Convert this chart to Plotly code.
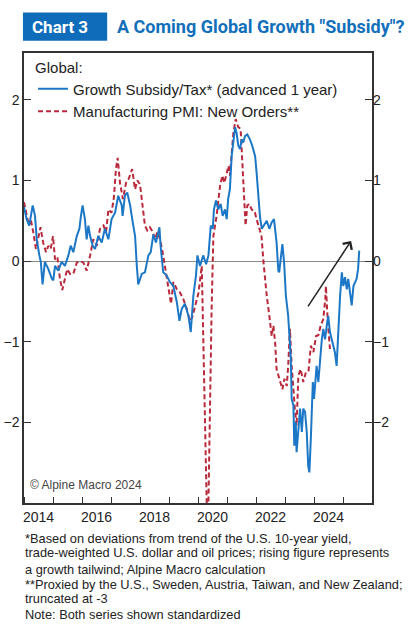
import plotly.graph_objects as go

# ---- data (decimal years) ----
blue_x = [2014.00, 2014.09, 2014.18, 2014.30, 2014.38, 2014.44, 2014.53, 2014.58, 2014.64, 2014.72,
          2014.84, 2014.96, 2015.01, 2015.07, 2015.18, 2015.30, 2015.41, 2015.53, 2015.61, 2015.70,
          2015.82, 2015.91, 2015.96, 2016.02, 2016.10, 2016.16, 2016.22, 2016.28, 2016.37, 2016.45,
          2016.56, 2016.68, 2016.79, 2016.91, 2017.02, 2017.14, 2017.25, 2017.37, 2017.40, 2017.48,
          2017.56, 2017.66, 2017.75, 2017.83, 2017.89, 2017.94, 2018.06, 2018.17, 2018.29, 2018.37,
          2018.46, 2018.55, 2018.67, 2018.71, 2018.80, 2018.92, 2019.03, 2019.15, 2019.27, 2019.36,
          2019.44, 2019.55, 2019.67, 2019.75, 2019.84, 2019.93, 2019.98, 2020.07, 2020.18, 2020.28,
          2020.36, 2020.44, 2020.51, 2020.55, 2020.62, 2020.70, 2020.78, 2020.85, 2020.93, 2020.99,
          2021.04, 2021.10, 2021.16, 2021.22, 2021.28, 2021.33, 2021.39, 2021.45, 2021.51, 2021.56,
          2021.62, 2021.70, 2021.79, 2021.87, 2021.97, 2022.02, 2022.08, 2022.14, 2022.20, 2022.28,
          2022.37, 2022.46, 2022.54, 2022.62, 2022.71, 2022.77, 2022.80, 2022.85, 2022.91, 2022.97,
          2023.03, 2023.11, 2023.20, 2023.23, 2023.29, 2023.32, 2023.37, 2023.40, 2023.46, 2023.52,
          2023.58, 2023.63, 2023.69, 2023.75, 2023.80, 2023.84, 2023.89, 2023.92, 2023.96, 2024.00,
          2024.04, 2024.09, 2024.15, 2024.21, 2024.27, 2024.32, 2024.38, 2024.44, 2024.49, 2024.55,
          2024.61, 2024.67, 2024.72, 2024.78, 2024.84, 2024.90, 2024.96, 2025.01, 2025.07, 2025.13,
          2025.18, 2025.24, 2025.30, 2025.36, 2025.41, 2025.47, 2025.52, 2025.56]
blue_y = [0.67, 0.52, 0.44, 0.69, 0.56, 0.27, 0.07, -0.01, -0.29, -0.01,
          -0.10, -0.22, -0.24, -0.06, -0.12, -0.01, -0.06, 0.07, 0.19, 0.11,
          0.31, 0.40, 0.55, 0.69, 0.52, 0.27, 0.44, 0.31, 0.19, 0.15,
          0.31, 0.23, 0.40, 0.27, 0.52, 0.60, 0.81, 0.69, 0.56, 0.81,
          0.85, 0.69, 0.48, 0.31, -0.06, -0.29, -0.16, -0.14, 0.07, 0.11,
          0.33, 0.23, 0.42, 0.19, -0.14, -0.18, -0.26, -0.31, -0.51, -0.74,
          -0.59, -0.53, -0.68, -0.88, -0.43, -0.18, 0.07, -0.06, 0.07, -0.04,
          0.07, 0.44, 0.40, 0.64, 0.75, 0.64, 0.71, 0.56, 0.64, 0.52,
          0.77, 0.89, 1.30, 1.47, 1.66, 1.59, 1.43, 1.39, 1.51, 1.47,
          1.55, 1.57, 1.51, 1.43, 1.30, 1.10, 0.85, 0.54, 0.40, 0.44,
          0.50, 0.40, 0.48, 0.52, 0.23, -0.12, -0.14, 0.02, 0.21, -0.02,
          -0.43, -0.68, -1.21, -1.71, -1.79, -2.29, -2.00, -2.37, -2.04, -1.83,
          -2.12, -1.83, -1.87, -2.12, -2.54, -2.62, -2.21, -1.79, -1.50, -1.71,
          -1.46, -1.30, -1.50, -1.17, -0.97, -0.84, -0.97, -0.80, -0.68, -0.88,
          -0.97, -1.05, -1.13, -1.30, -0.80, -0.43, -0.14, -0.31, -0.20, -0.35,
          -0.22, -0.43, -0.55, -0.31, -0.26, -0.22, -0.10, 0.13]

red_x = [2014.00, 2014.09, 2014.17, 2014.23, 2014.32, 2014.41, 2014.49, 2014.57, 2014.66, 2014.76,
         2014.84, 2014.92, 2015.00, 2015.07, 2015.15, 2015.24, 2015.32, 2015.41, 2015.49, 2015.59,
         2015.70, 2015.82, 2015.93, 2016.05, 2016.16, 2016.28, 2016.39, 2016.51, 2016.62, 2016.74,
         2016.83, 2016.91, 2017.02, 2017.10, 2017.17, 2017.23, 2017.31, 2017.41, 2017.52, 2017.61,
         2017.73, 2017.83, 2017.91, 2018.00, 2018.09, 2018.17, 2018.25, 2018.34, 2018.44, 2018.52,
         2018.60, 2018.69, 2018.78, 2018.86, 2018.94, 2019.01, 2019.07, 2019.15, 2019.27, 2019.38,
         2019.49, 2019.61, 2019.72, 2019.80, 2019.90, 2020.02, 2020.13, 2020.18, 2020.24, 2020.30,
         2020.36, 2020.41, 2020.47, 2020.53, 2020.64, 2020.76, 2020.84, 2020.91, 2020.99, 2021.05,
         2021.10, 2021.16, 2021.22, 2021.30, 2021.39, 2021.47, 2021.54, 2021.60, 2021.64, 2021.70,
         2021.77, 2021.85, 2021.95, 2022.02, 2022.08, 2022.19, 2022.25, 2022.31, 2022.37, 2022.46,
         2022.54, 2022.60, 2022.66, 2022.71, 2022.83, 2022.91, 2022.98, 2023.06, 2023.11, 2023.17,
         2023.23, 2023.29, 2023.34, 2023.40, 2023.46, 2023.54, 2023.63, 2023.72, 2023.81, 2023.89,
         2023.98, 2024.07, 2024.15, 2024.23, 2024.32, 2024.39, 2024.41, 2024.47, 2024.55]
red_y = [0.73, 0.56, 0.44, 0.52, 0.36, 0.15, 0.27, 0.42, 0.23, 0.11,
         0.19, 0.15, 0.31, 0.02, 0.05, -0.22, -0.36, -0.22, -0.10, -0.16,
         -0.16, -0.02, 0.00, -0.02, -0.12, 0.07, 0.27, 0.19, 0.40, 0.44,
         0.36, 0.64, 0.60, 0.79, 1.14, 1.28, 0.97, 0.77, 0.97, 1.02,
         1.14, 0.89, 1.00, 0.95, 0.69, 0.44, 0.38, 0.42, 0.36, 0.27,
         0.36, 0.27, 0.11, -0.06, -0.22, -0.39, -0.53, -0.26, -0.35, -0.39,
         -0.47, -0.59, -0.74, -0.70, -0.55, -0.39, -0.06, -1.00, -2.25, -3.00,
         -3.00, -1.83, -0.59, 0.31, 0.56, 0.93, 1.06, 0.97, 1.08, 1.18,
         1.06, 1.39, 1.59, 1.76, 1.66, 1.64, 1.14, 0.73, 0.44, 0.69,
         0.71, 0.64, 0.62, 0.52, 0.44, 0.31, 0.02, -0.26, -0.43, -0.68,
         -0.93, -0.80, -1.01, -1.34, -1.50, -1.59, -1.46, -1.55, -1.30, -0.84,
         -1.30, -1.63, -1.83, -2.04, -1.42, -1.34, -1.50, -1.38, -1.37, -1.05,
         -1.13, -0.93, -0.92, -0.80, -0.72, -0.47, -0.31, -0.72, -1.09]

year_labels = [2014, 2016, 2018, 2020, 2022, 2024]
y_ticks = [-2, -1, 0, 1, 2]

footnotes = ["*Based on deviations from trend of the U.S. 10-year yield,",
             "trade-weighted U.S. dollar and oil prices; rising figure represents",
             "a growth tailwind; Alpine Macro calculation",
             "**Proxied by the U.S., Sweden, Austria, Taiwan, and New Zealand;",
             "truncated at -3",
             "Note: Both series shown standardized"]

BLUE = "#1c78c6"
RED = "#b8293b"
TITLE_BLUE = "#1270bb"
TXT = "#222222"
FONT = "Arial, Liberation Sans, sans-serif"

fig = go.Figure()
fig.add_trace(go.Scatter(x=red_x, y=red_y, mode="lines", name="Manufacturing PMI: New Orders**",
                         line=dict(color=RED, width=2, dash="5px,3px")))
fig.add_trace(go.Scatter(x=blue_x, y=blue_y, mode="lines", name="Growth Subsidy/Tax* (advanced 1 year)",
                         line=dict(color=BLUE, width=2)))
# invisible trace to activate the mirrored right axis
fig.add_trace(go.Scatter(x=blue_x, y=blue_y, yaxis="y2", mode="lines", line=dict(width=0),
                         opacity=0, showlegend=False, hoverinfo="skip"))

yr = [-3, 2.58]
fig.update_layout(
    width=419, height=636,
    margin=dict(l=24, r=47, t=53, b=133),
    paper_bgcolor="white", plot_bgcolor="white",
    font=dict(family=FONT, size=14, color=TXT),
    showlegend=True,
    legend=dict(x=0.026, y=1.0, xanchor="left", yanchor="top",
                bgcolor="rgba(0,0,0,0)", traceorder="reversed",
                title=dict(text="Global:", font=dict(size=15, color=TXT)),
                font=dict(size=15, color=TXT), tracegroupgap=0),
    xaxis=dict(range=[2014, 2026], showgrid=False, zeroline=False, automargin=False,
               showline=True, mirror=True, linecolor="#333333", linewidth=1.5,
               tickmode="array", tickvals=[y + 0.5 for y in year_labels],
               ticktext=[str(y) for y in year_labels], ticks="",
               tickfont=dict(size=14, color=TXT),
               minor=dict(tickmode="linear", tick0=2014, dtick=1, ticks="inside",
                          ticklen=6, tickcolor="#333333", tickwidth=1, showgrid=False)),
    yaxis=dict(range=yr, showgrid=False, zeroline=True, zerolinecolor="#8a8a8a", zerolinewidth=1,
               showline=True, mirror=True, linecolor="#333333", linewidth=1.5, automargin=False,
               tickmode="array", tickvals=y_ticks, ticks="inside", ticklen=7,
               tickcolor="#333333", tickfont=dict(size=14, color=TXT)),
    yaxis2=dict(range=yr, overlaying="y", side="right", showgrid=False, zeroline=False,
                showline=False, automargin=False, tickmode="array", tickvals=y_ticks, ticks="inside",
                ticklen=7, tickcolor="#333333", tickfont=dict(size=14, color=TXT)),
)

# title block
fig.add_shape(type="rect", xref="paper", yref="paper", x0=-0.003, x1=0.239, y0=1.027, y1=1.09,
              fillcolor="#0f6cbb", line=dict(width=0))
fig.add_annotation(text="<b>Chart 3</b>", xref="paper", yref="paper", x=0.016, y=1.058,
                   xanchor="left", yanchor="middle", showarrow=False,
                   font=dict(family="Roboto, sans-serif", size=17, color="white"))
fig.add_annotation(text='<b>A Coming Global Growth "Subsidy"?</b>', xref="paper", yref="paper",
                   x=0.262, y=1.058, xanchor="left", yanchor="middle", showarrow=False,
                   font=dict(family="Roboto, sans-serif", size=18, color=TITLE_BLUE))

# copyright
fig.add_annotation(text="© Alpine Macro 2024", xref="paper", yref="paper", x=0.012, y=0.04,
                   xanchor="left", yanchor="middle", showarrow=False,
                   font=dict(size=12, color="#444444"))

# arrow
fig.add_annotation(x=2025.28, y=0.25, ax=2023.76, ay=-0.58, xref="x", yref="y",
                   axref="x", ayref="y", showarrow=True, arrowhead=4, arrowsize=1.4,
                   arrowwidth=1.5, arrowcolor="#222222", text="")

# footnotes, one line each
note_y = [-0.0778, -0.1111, -0.1467, -0.18, -0.2133, -0.2467]
for line, yy in zip(footnotes, note_y):
    fig.add_annotation(text=line, xref="paper", yref="paper", x=-0.003, y=yy,
                       xanchor="left", yanchor="middle", align="left", showarrow=False,
                       font=dict(size=12.8, color=TXT))

fig.write_html("out.html")
